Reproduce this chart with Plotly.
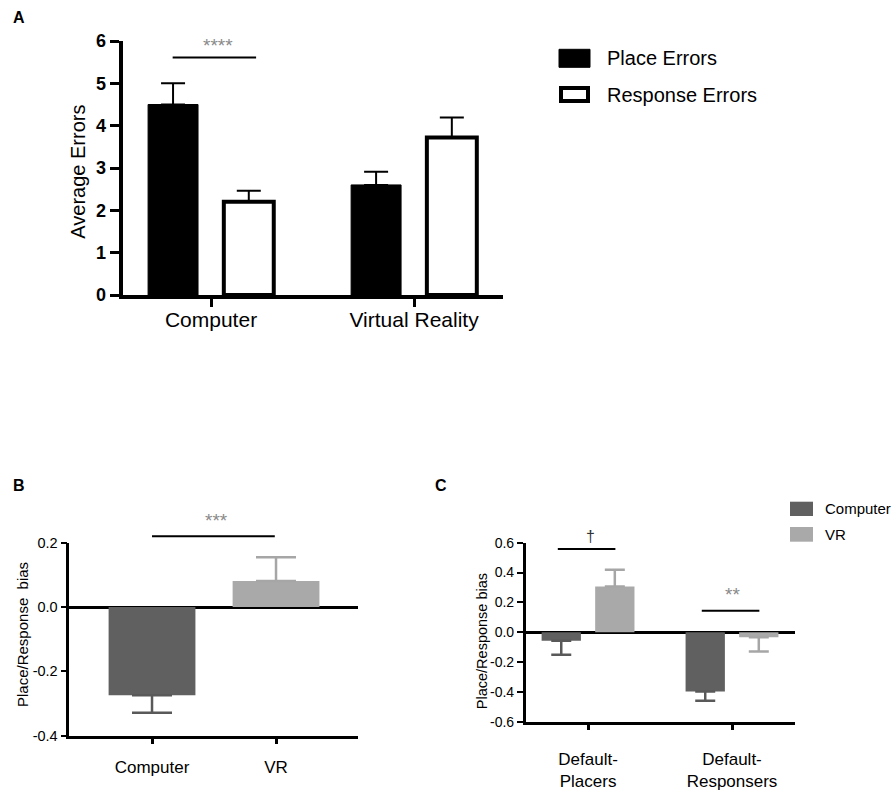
import plotly.graph_objects as go

FONT = "Arial, Liberation Sans, sans-serif"
W, H = 893, 793

# Panel A: average errors by environment
categories_a = ["Computer", "Virtual Reality"]
place_errors = [4.50, 2.60]
place_sem = [0.50, 0.31]
response_errors = [2.20, 3.72]
response_sem = [0.26, 0.47]

# Panel B: overall place/response bias
categories_b = ["Computer", "VR"]
bias_b = [-0.274, 0.081]
bias_b_sem = [0.055, 0.074]
ticks_b = [-0.4, -0.2, 0.0, 0.2]
ticklabels_b = ["-0.4", "-0.2", "0.0", "0.2"]

# Panel C: bias split by default strategy
categories_c = ["Default-<br>Placers", "Default-<br>Responsers"]
computer_c = [-0.058, -0.398]
computer_c_sem = [0.094, 0.062]
vr_c = [0.306, -0.034]
vr_c_sem = [0.112, 0.096]
ticks_c = [-0.6, -0.4, -0.2, 0.0, 0.2, 0.4, 0.6]
ticklabels_c = ["-0.6", "-0.4", "-0.2", "0.0", "0.2", "0.4", "0.6"]

DARK = "#606060"
LIGHT = "#a9a9a9"

# subplot placement (paper fractions)
dom_a = {"x": [122.7 / W, 503 / W], "y": [1 - 295 / H, 1 - 41 / H]}
dom_b = {"x": [69.3 / W, 358 / W], "y": [1 - 735.7 / H, 1 - 542.7 / H]}
dom_c = {"x": [525.7 / W, 795 / W], "y": [1 - 721.7 / H, 1 - 542.7 / H]}
range_a, range_b, range_c = [0, 6], [-0.4, 0.2], [-0.6, 0.6]


def frac(v, rng):
    return (v - rng[0]) / (rng[1] - rng[0])


def err_y(values, sem, color, width, thickness):
    up = [e if v >= 0 else 0 for v, e in zip(values, sem)]
    down = [e if v < 0 else 0 for v, e in zip(values, sem)]
    return dict(type="data", symmetric=False, array=up, arrayminus=down,
                color=color, width=width, thickness=thickness)


fig = go.Figure()

# ---- A ----
fig.add_bar(x=categories_a, y=place_errors, xaxis="x", yaxis="y",
            width=0.246, offset=-0.31, marker=dict(color="black", line=dict(color="black", width=1)),
            error_y=err_y(place_errors, place_sem, "black", 12, 2))
fig.add_bar(x=categories_a, y=response_errors, xaxis="x", yaxis="y",
            width=0.246, offset=0.063, marker=dict(color="white", line=dict(color="black", width=4)),
            error_y=err_y(response_errors, response_sem, "black", 12, 2))

# ---- B ----
fig.add_bar(x=[categories_b[0]], y=[bias_b[0]], xaxis="x2", yaxis="y2",
            width=0.70, offset=-0.35, marker=dict(color=DARK, line=dict(width=0)),
            error_y=err_y([bias_b[0]], [bias_b_sem[0]], "#595959", 20, 2.5))
fig.add_bar(x=[categories_b[1]], y=[bias_b[1]], xaxis="x2", yaxis="y2",
            width=0.70, offset=-0.35, marker=dict(color=LIGHT, line=dict(width=0)),
            error_y=err_y([bias_b[1]], [bias_b_sem[1]], "#a6a6a6", 20, 2.5))

# ---- C ----
fig.add_bar(x=categories_c, y=computer_c, xaxis="x3", yaxis="y3",
            width=0.273, offset=-0.3225, marker=dict(color=DARK, line=dict(width=0)),
            error_y=err_y(computer_c, computer_c_sem, "#595959", 10, 2.5))
fig.add_bar(x=categories_c, y=vr_c, xaxis="x3", yaxis="y3",
            width=0.273, offset=0.0495, marker=dict(color=LIGHT, line=dict(width=0)),
            error_y=err_y(vr_c, vr_c_sem, "#a6a6a6", 10, 2.5))

fig.update_traces(showlegend=False, hoverinfo="x+y")

axis_common = dict(showline=True, linecolor="black", ticks="outside", tickcolor="black",
                   showgrid=False, zeroline=False, fixedrange=True, automargin=False)

shapes = [
    # significance bars
    dict(type="line", xref="x", yref="y", x0=-0.189, x1=0.222, y0=5.61, y1=5.61,
         line=dict(color="black", width=2)),
    dict(type="line", xref="x2", yref="y2 domain", x0=0.0, x1=0.99,
         y0=frac(0.22, range_b), y1=frac(0.22, range_b), line=dict(color="black", width=2)),
    dict(type="line", xref="x3", yref="y3", x0=-0.21, x1=0.19, y0=0.558, y1=0.558,
         line=dict(color="black", width=2)),
    dict(type="line", xref="x3", yref="y3", x0=0.79, x1=1.19, y0=0.143, y1=0.143,
         line=dict(color="black", width=2)),
    # legend swatches
    dict(type="rect", xref="paper", yref="paper", x0=559 / W, x1=590 / W,
         y0=1 - 67.3 / H, y1=1 - 49.3 / H, fillcolor="black", line=dict(color="black", width=1)),
    dict(type="rect", xref="paper", yref="paper", x0=561 / W, x1=588 / W,
         y0=1 - 101 / H, y1=1 - 88 / H, fillcolor="white", line=dict(color="black", width=4)),
    dict(type="rect", xref="paper", yref="paper", x0=790 / W, x1=813 / W,
         y0=1 - 516 / H, y1=1 - 501.7 / H, fillcolor=DARK, line=dict(width=0)),
    dict(type="rect", xref="paper", yref="paper", x0=790 / W, x1=813 / W,
         y0=1 - 541.7 / H, y1=1 - 527 / H, fillcolor=LIGHT, line=dict(width=0)),
]


def note(text, x, y, size, xref="paper", yref="paper", color="black", bold=False,
         xanchor="center", angle=0):
    return dict(text=f"<b>{text}</b>" if bold else text, x=x, y=y, xref=xref, yref=yref,
                showarrow=False, xanchor=xanchor, yanchor="middle", textangle=angle,
                font=dict(size=size, color=color, family=FONT))


annotations = [
    note("A", 19 / W, 1 - 17 / H, 16, bold=True),
    note("B", 19 / W, 1 - 485 / H, 16, bold=True),
    note("C", 441 / W, 1 - 485 / H, 16, bold=True),
    note("Average Errors", 78 / W, 1 - 171.7 / H, 20, angle=-90),
    note("Place/Response  bias", 22 / W, 1 - 635 / H, 15, angle=-90),
    note("Place/Response bias", 481.5 / W, 1 - 641.7 / H, 14.5, angle=-90),
    note("Place Errors", 605 / W, 1 - 58 / H, 20, xanchor="left"),
    note("Response Errors", 605 / W, 1 - 94.5 / H, 20, xanchor="left"),
    note("Computer", 822.7 / W, 1 - 508.3 / H, 15, xanchor="left"),
    note("VR", 822.7 / W, 1 - 534 / H, 15, xanchor="left"),
    note("****", 0.034, 1 - 45 / H, 19, xref="x", color="#8a8a8a"),
    note("***", 0.52, frac(0.268, range_b), 19, xref="x2", yref="y2 domain", color="#8a8a8a"),
    note("†", 0.014, frac(0.64, range_c), 16, xref="x3", yref="y3 domain", color="#333333"),
    note("**", 1.005, 0.25, 19, xref="x3", yref="y3", color="#8a8a8a"),
]

fig.update_layout(
    template="none",
    width=W, height=H, autosize=False,
    margin=dict(l=0, r=0, t=0, b=0, pad=0),
    paper_bgcolor="white", plot_bgcolor="white",
    barmode="overlay", showlegend=False,
    font=dict(family=FONT, color="black"),
    xaxis=dict(axis_common, domain=dom_a["x"], anchor="y", type="category",
               categoryorder="array", categoryarray=categories_a, range=[-0.435, 1.438],
               linewidth=4, tickwidth=3, ticklen=8, ticklabelstandoff=-5,
               tickfont=dict(size=21)),
    yaxis=dict(axis_common, domain=dom_a["y"], anchor="x", range=range_a, dtick=1,
               linewidth=4, tickwidth=3, ticklen=9, tickfont=dict(size=18, weight="bold")),
    xaxis2=dict(axis_common, domain=dom_b["x"], anchor="y2", type="category",
                categoryorder="array", categoryarray=categories_b, range=[-0.667, 1.661],
                linewidth=2.5, tickwidth=2.5, ticklen=6, ticklabelstandoff=8,
                tickfont=dict(size=17)),
    yaxis2=dict(axis_common, domain=dom_b["y"], anchor="x2", range=range_b,
                tickvals=ticks_b, ticktext=ticklabels_b, linewidth=2.5, tickwidth=2, ticklen=6,
                zeroline=True, zerolinecolor="black", zerolinewidth=3,
                tickfont=dict(size=14.5)),
    xaxis3=dict(axis_common, domain=dom_c["x"], anchor="y3", type="category",
                categoryorder="array", categoryarray=categories_c, range=[-0.433, 1.4375],
                linewidth=2.5, tickwidth=2.5, ticklen=6, ticklabelstandoff=14,
                tickfont=dict(size=17)),
    yaxis3=dict(axis_common, domain=dom_c["y"], anchor="x3", range=range_c,
                tickvals=ticks_c, ticktext=ticklabels_c, linewidth=2.5, tickwidth=2, ticklen=6,
                zeroline=True, zerolinecolor="black", zerolinewidth=3,
                tickfont=dict(size=14)),
    shapes=shapes,
    annotations=annotations,
)

# drop the browser's default body margin so the figure sits at the page origin
fig.write_html("out.html", config={"displayModeBar": False},
               post_script="document.body.style.margin = '0';")
